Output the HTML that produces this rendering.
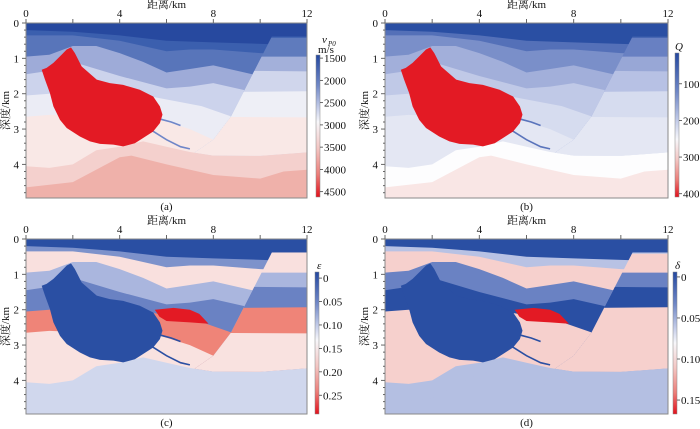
<!DOCTYPE html>
<html><head><meta charset="utf-8">
<style>
html,body{margin:0;padding:0;background:#fff;}
svg{display:block;font-family:"Liberation Serif","Noto Serif CJK SC",serif;}
</style></head>
<body>
<svg id="fig" width="700" height="429" viewBox="0 0 700 429" xmlns="http://www.w3.org/2000/svg"></svg>
<script>
// ---- data (km) ----
const xTickLabels=[0,4,8,12];
const yTickLabels=[0,1,2,3,4];
const b1=[[0,0.2],[2,0.25],[4,0.35],[6,0.5],[8,0.55],[10.5,0.6],[12,0.6]];
const b2=[[0,0.35],[2,0.35],[4,0.5],[6,0.8],[7,0.75],[8,0.75],[10,0.85],[12,0.9]];
const b3=[[0,0.95],[1,0.9],[2,0.65],[3,0.65],[4,0.85],[5,1.1],[6,1.4],[7,1.3],[8,1.2],[10,1.5],[12,1.6]];
const b4=[[0,1.45],[1,1.35],[2,1.1],[4,1.5],[6,1.85],[7,1.8],[8,1.7],[10,2.0],[12,2.1]];
const b5=[[0,2.05],[1,2.0],[3,2.2],[5.5,2.1],[7.5,2.35],[8.8,2.65],[12,2.8]];
const b5a=[[0,2.65],[1,2.6],[3,2.65],[5.8,2.75],[7,3.0],[8,3.3],[12,3.4]];
const b6=[[0,4.05],[1,4.1],[2,4.0],[3,3.6],[4,3.5],[5,3.35],[6,3.5],[7,3.65],[8,3.75],[10,3.76],[12,3.66]];
const b7=[[0,4.65],[2,4.5],[4,3.8],[4.5,3.75],[6,4.0],[8,4.3],[10,4.4],[11,4.2],[12,4.15]];
const rightBlock=[[10.5,0.38],[12,0.38],[12,3.66],[10,3.76],[8,3.75],[7.2,3.67],[8,3.3],[8.75,2.65]];
const r1=[[9,0.42],[12,0.40]];
const r2=[[9,0.95],[12,0.95]];
const r3=[[9,1.35],[12,1.37]];
const r4=[[9,1.95],[12,1.93]];
const r5=[[7,2.65],[12,2.67]];
const salt=[[1.92,0.69],[2.09,0.85],[2.38,1.23],[3.02,1.6],[3.58,1.7],[4.15,1.75],[4.86,1.89],[5.43,2.08],[5.72,2.36],[5.83,2.59],[5.72,2.83],[5.43,3.07],[5.01,3.25],[4.65,3.4],[4.15,3.49],[3.73,3.44],[3.16,3.42],[2.73,3.35],[2.3,3.21],[1.74,2.97],[1.45,2.74],[1.17,2.36],[1.02,1.98],[0.81,1.6],[0.67,1.32],[0.88,1.27],[1.17,1.13],[1.52,0.9],[1.74,0.75]];
const lens=[[5.5,2.0],[6.3,1.95],[7.0,2.0],[7.4,2.12],[7.8,2.4],[7.0,2.36],[6.0,2.32],[5.7,2.2]];
const vein1=[[5.75,2.72],[6.2,2.8],[6.6,2.9]];
const vein2=[[5.4,3.05],[6.0,3.3],[6.6,3.5],[7.0,3.56]];
const colorsA=["#27499f","#3b5fae","#5875ba","#9eabd8","#ccd3ec","#ebecf5","#f9e8e6","#f4d0cd","#efb1aa"];
const colorsB=["#2a4fa3","#5470b8","#7a8fc9","#a2afda","#c0c9e7","#d6dcef","#e4e7f3","#fdfdfe","#f9e6e5"];
const colorsC=["#2a4fa3","#7d92cb","#f9e0de","#aab6de","#6a82c3","#ef8478","#f9e2e0","#d0d7ed","#d0d7ed"];
const colorsD=["#2a4fa3","#b8c2e4","#f6d0cd","#6a82c3","#2a4fa3","#f6d0cd","#f6d0cd","#b4bfe2","#b4bfe2"];
const rightA=["#3b5fae","#5f7bbd","#a3b0da","#d0d6ec","#eeeff6","#f9e8e6"];
const rightB=["#3e5fae","#6880c2","#98a7d6","#b7c1e4","#d6dcef","#e4e7f3"];
const rightC=["#f9e0de","#f9e0de","#aab6de","#6a82c3","#ef8478","#f9e2e0"];
const rightD=["#b8c2e4","#f6d0cd","#6a82c3","#2a4fa3","#f6d0cd","#f6d0cd"];
const cbTicksA=[1500,2000,2500,3000,3500,4000,4500];
const cbTicksB=[100,200,300,400];
const cbTicksC=[0,0.05,0.10,0.15,0.20,0.25];
const cbTicksD=[0,0.05,0.10,0.15];

const NS="http://www.w3.org/2000/svg";
const svg=document.getElementById('fig');
function mk(tag,attrs,parent){const e=document.createElementNS(NS,tag);for(const k in attrs)e.setAttribute(k,attrs[k]);(parent||svg).appendChild(e);return e;}

const panels=[
 {id:'a',x0:26,x1:307,y0:23,y1:198,cols:colorsA,right:rightA,salt:"#e31a24",lens:null,vein:"#6f86c8",
  cb:{x:316,y0:55,y1:197,lo:1430,hi:4620,ticks:cbTicksA,fmt:v=>String(v),mid:0.47}},
 {id:'b',x0:385,x1:668,y0:23,y1:198,cols:colorsB,right:rightB,salt:"#e31a24",lens:null,vein:"#5a74bb",
  cb:{x:675,y0:53,y1:197,lo:16,hi:409,ticks:cbTicksB,fmt:v=>String(v),mid:0.6}},
 {id:'c',x0:26,x1:307,y0:239,y1:414,cols:colorsC,right:rightC,salt:"#2a4fa3",lens:"#e31a24",vein:"#2a4fa3",
  cb:{x:315,y0:272,y1:414,lo:-0.013,hi:0.29,ticks:cbTicksC,fmt:v=>v===0?"0":v.toFixed(2),mid:0.48}},
 {id:'d',x0:385,x1:668,y0:239,y1:414,cols:colorsD,right:rightD,salt:"#2a4fa3",lens:"#e31a24",vein:"#2a4fa3",
  cb:{x:673,y0:272,y1:414,lo:-0.006,hi:0.167,ticks:cbTicksD,fmt:v=>v===0?"0":v.toFixed(2),mid:0.5}}
];
const DEPTH=4.95;
const defs=mk('defs',{});

panels.forEach(p=>{
  const sx=x=>p.x0+x*(p.x1-p.x0)/12;
  const sy=y=>p.y0+y*(p.y1-p.y0)/DEPTH;
  const pts=a=>a.map(q=>sx(q[0]).toFixed(1)+","+sy(q[1]).toFixed(1)).join(" ");
  const below=b=>{const a=[[-0.1,b[0][1]]].concat(b,[[12.1,b[b.length-1][1]],[12.1,DEPTH+0.1],[-0.1,DEPTH+0.1]]);return pts(a);};
  const cp=mk('clipPath',{id:'clip-'+p.id},defs);
  mk('rect',{x:p.x0,y:p.y0,width:p.x1-p.x0,height:p.y1-p.y0},cp);
  const rc=mk('clipPath',{id:'rclip-'+p.id},defs);
  mk('polygon',{points:pts(rightBlock)},rc);

  const g=mk('g',{'clip-path':'url(#clip-'+p.id+')'});
  
  
  const r0=mk('rect',{x:p.x0,y:p.y0,width:p.x1-p.x0,height:p.y1-p.y0,fill:p.cols[0]},g);
  
  
  const leftB=[b1,b2,b3,b4,b5,b5a];
  leftB.forEach((b,i)=>{
    const e=mk('polygon',{points:below(b),fill:p.cols[i+1]},g);
    
    
  });
  const rg=mk('g',{'clip-path':'url(#rclip-'+p.id+')'},g);
  
  
  [r1,r2,r3,r4,r5].forEach((b,i)=>{
    const e=mk('polygon',{points:below(b),fill:p.right[i+1]},rg);
    
    
  });
  const top=mk('polygon',{points:pts([[8,0.38],[12,0.38],[12,0.42],[8,0.42]]),fill:p.right[0]},rg);
  
  
  [b6,b7].forEach((b,i)=>{
    const e=mk('polygon',{points:below(b),fill:p.cols[7+i]},g);
    
    
  });
  [vein1,vein2].forEach((v,i)=>{
    const e=mk('polyline',{points:pts(v),fill:'none',stroke:p.vein,'stroke-width':1.6},g);
    
    
  });
  if(p.lens){const e=mk('polygon',{points:pts(lens),fill:p.lens},g);
    
    }
  const s=mk('polygon',{points:pts(salt),fill:p.salt},g);
  
  
  const fr=mk('rect',{x:p.x0,y:p.y0,width:p.x1-p.x0,height:p.y1-p.y0,fill:'none',stroke:'#8a8a8a','stroke-width':1});
  
  
  for(let x=0;x<=12;x+=2){mk('line',{x1:sx(x),x2:sx(x),y1:p.y0,y2:p.y0-4,stroke:'#666','stroke-width':1});}
  xTickLabels.forEach(v=>{const t=mk('text',{x:sx(v),y:p.y0-6,'font-size':11,'text-anchor':'middle',fill:'#111'});t.textContent=v;
    
    });
  const xt=mk('text',{x:(p.x0+p.x1)/2,y:p.y0-15,'font-size':11,'text-anchor':'middle',fill:'#111'});
  xt.textContent='距离/km';
  
  
  for(let k=0;k*0.2<=DEPTH;k++){const y=k*0.2;const L=(k%5===0)?4:2;
    mk('line',{x1:p.x0,x2:p.x0-L,y1:sy(y),y2:sy(y),stroke:'#666','stroke-width':1});}
  yTickLabels.forEach(v=>{const t=mk('text',{x:p.x0-7,y:sy(v)+4,'font-size':11,'text-anchor':'end',fill:'#111'});t.textContent=v;
    
    });
  const yt=mk('text',{x:p.x0-17,y:(p.y0+p.y1)/2,'font-size':11,'text-anchor':'middle',fill:'#111',transform:'rotate(-90 '+(p.x0-17)+' '+((p.y0+p.y1)/2)+')'});
  yt.textContent='深度/km';
  
  
  const cap=mk('text',{x:(p.x0+p.x1)/2,y:p.y1+12,'font-size':11,'text-anchor':'middle',fill:'#111'});
  cap.textContent='('+p.id+')';
  
  
  const c=p.cb;
  const gr=mk('linearGradient',{id:'grad-'+p.id,x1:0,y1:0,x2:0,y2:1},defs);
  [[0,'#2448a0'],[c.mid*0.45,'#6f87c6'],[c.mid*0.8,'#c7cfea'],[c.mid,'#f7f7fa'],[c.mid+(1-c.mid)*0.35,'#f3c6c3'],[c.mid+(1-c.mid)*0.7,'#ec7d78'],[1,'#e3111c']].forEach(st=>mk('stop',{offset:st[0],'stop-color':st[1]},gr));
  const cbr=mk('rect',{x:c.x,y:c.y0,width:4,height:c.y1-c.y0,fill:'url(#grad-'+p.id+')',stroke:'#888','stroke-width':0.5});
  
  
  const cy=v=>c.y0+(v-c.lo)/(c.hi-c.lo)*(c.y1-c.y0);
  c.ticks.forEach(v=>{mk('line',{x1:c.x+4,x2:c.x+7,y1:cy(v),y2:cy(v),stroke:'#444','stroke-width':0.8});
    const t=mk('text',{x:c.x+8,y:cy(v)+4,'font-size':11,fill:'#111'});t.textContent=c.fmt(v);
    
    });
});
function title(x,y,txt,italic){const t=mk('text',{x:x,y:y,'font-size':11,fill:'#111','font-style':italic?'italic':'normal'});t.textContent=txt;return t;}
let t1=title(322,43,'v',true);


let t1s=title(328,46,'P0',true);t1s.setAttribute('font-size','7');


let t1u=title(318,53,'m/s',false);


let t2=title(675,50,'Q',true);


let t3=title(317,269,'ε',true);


let t4=title(675,269,'δ',true);


</script>
</body></html>
